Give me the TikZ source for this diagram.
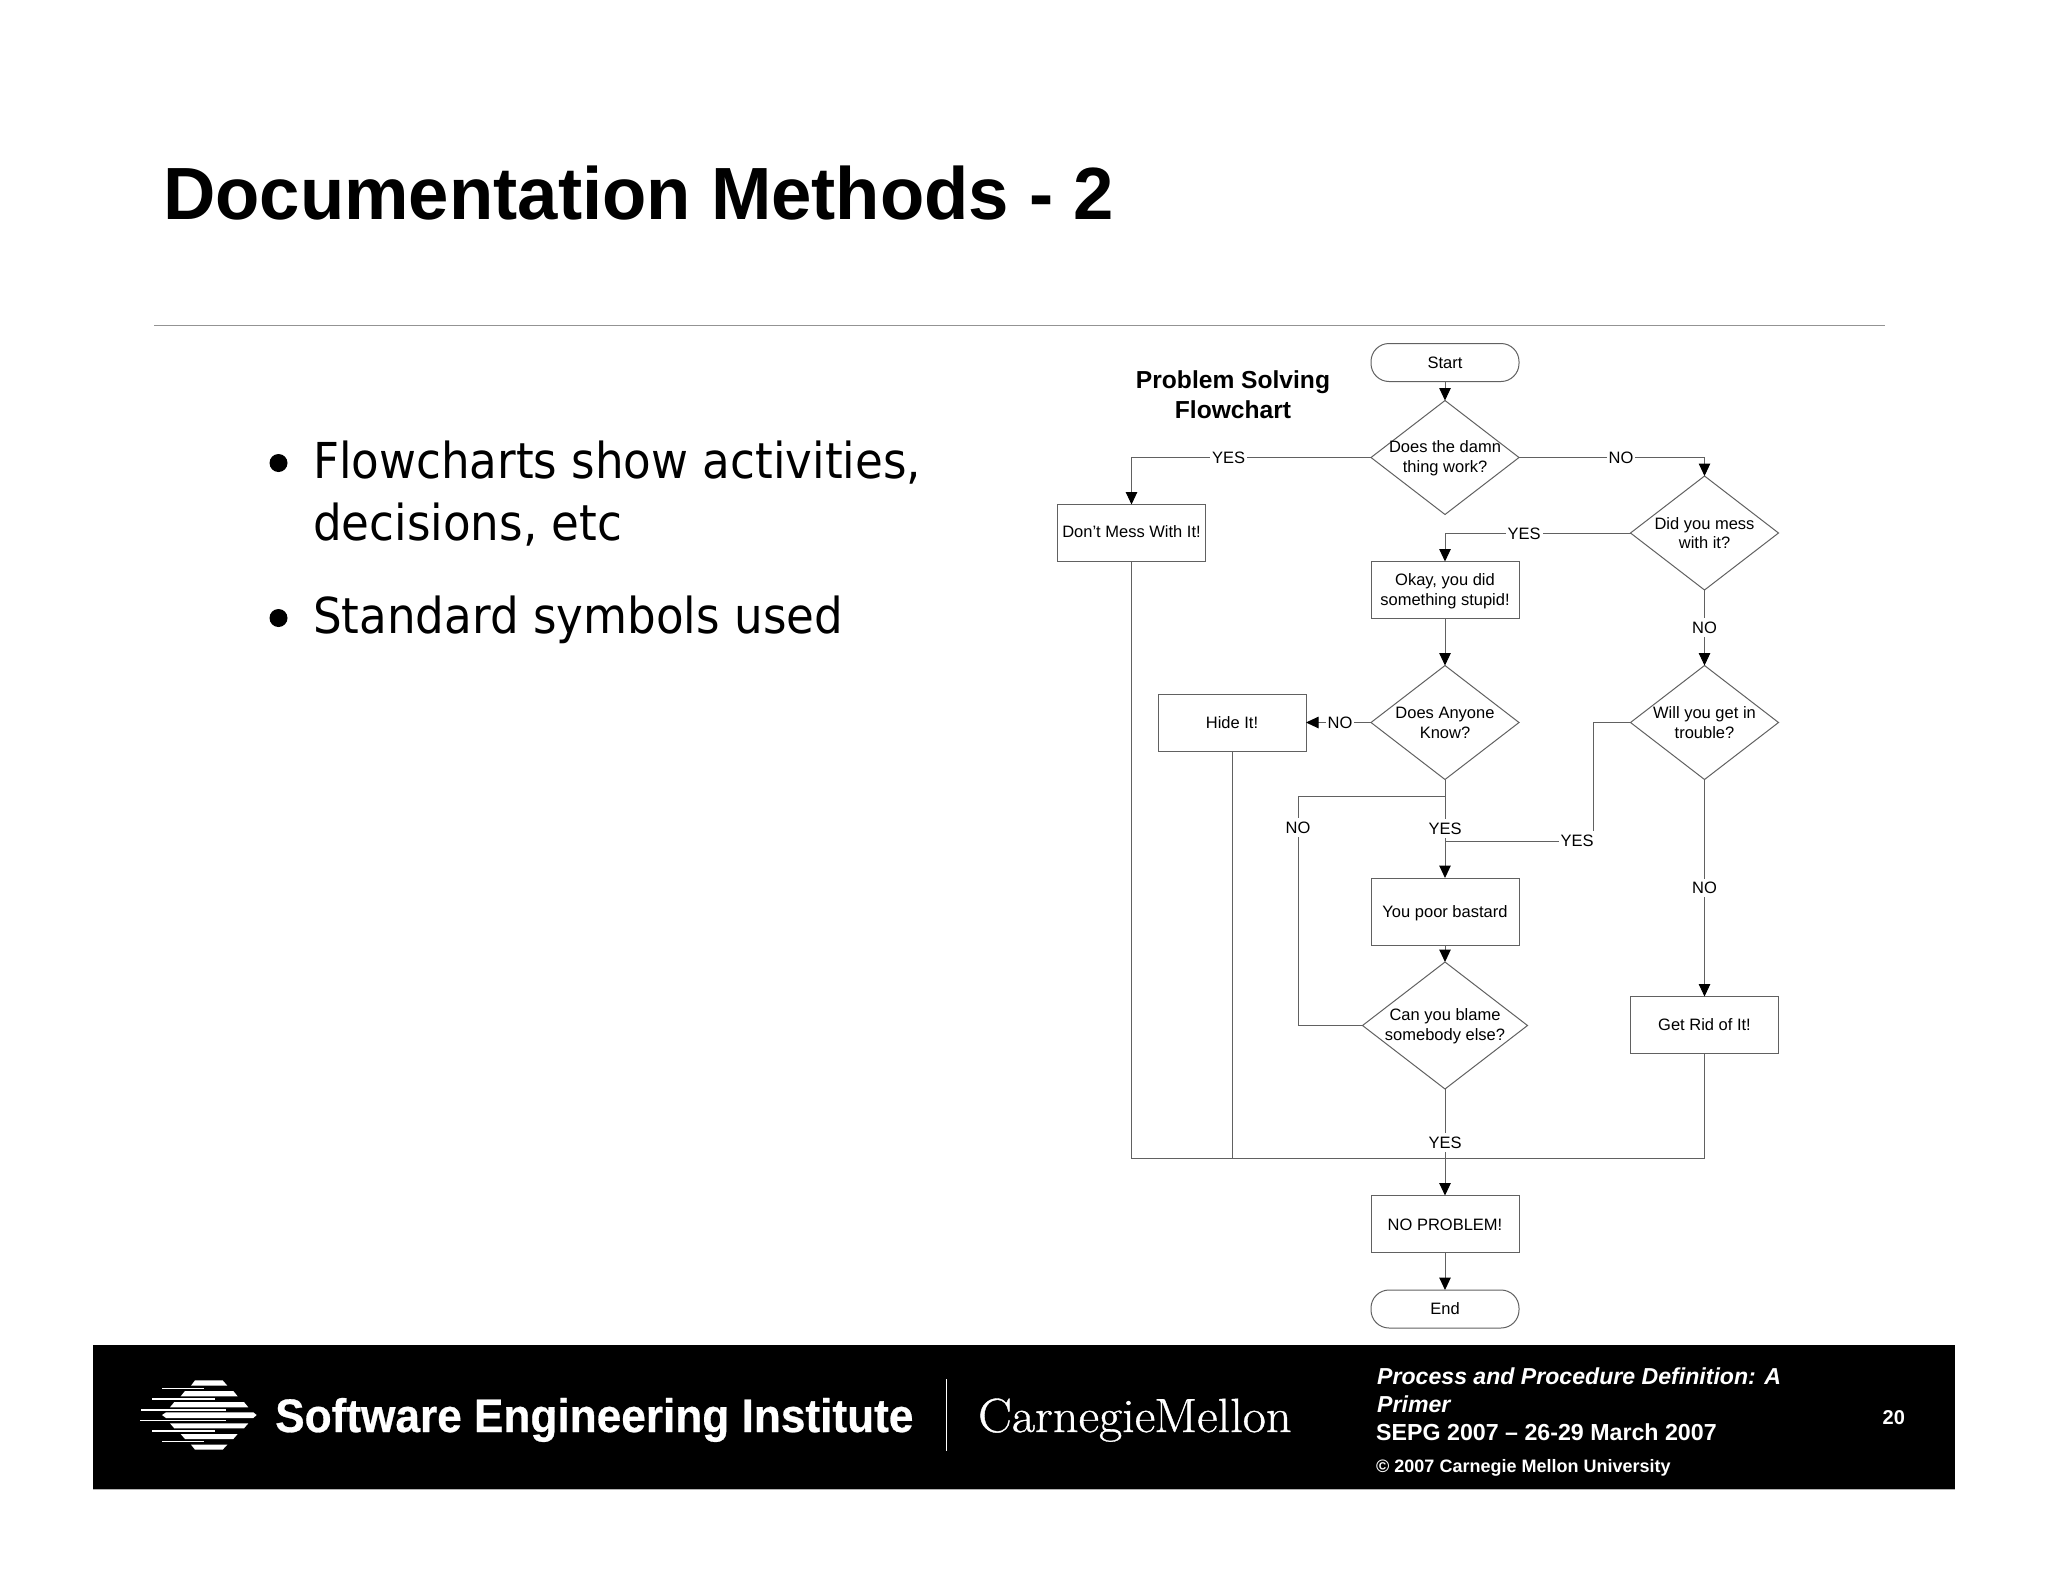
\documentclass[tikz,border=0pt]{standalone}
\usepackage{fontspec}
\setmainfont{Liberation Sans}
\newfontfamily\bulletfont[FakeStretch=0.913]{DejaVu Sans}
\newfontfamily\cmfont[FakeBold=0.8]{Latin Modern Roman}
\newfontfamily\seifont[FakeBold=0.6]{Liberation Sans}
\usetikzlibrary{shapes.geometric,arrows.meta}
\definecolor{linegray}{gray}{0.38}
\newcommand{\fs}[1]{\fontsize{#1}{#1}\selectfont}
\tikzset{
  base/.style={draw=linegray,line width=1pt,fill=white,inner sep=0pt,outer sep=0pt},
  boxnode/.style={base,rectangle,minimum width=148pt,minimum height=57pt},
  pill/.style={base,rectangle,rounded corners=18pt,minimum width=148pt,minimum height=38pt},
  dia/.style={base,diamond,minimum width=148pt,minimum height=114pt},
  txt/.style={inner sep=0pt,align=center,font=\fs{16.5},text=black,yshift=-1.3pt},
  lab/.style={fill=white,inner xsep=2pt,inner ysep=3.5pt,font=\fs{16.5},text=black,yshift=-0.5pt},
  flow/.style={draw=linegray,line width=1pt},
  arr/.style={flow,-{Triangle[length=12.5pt,width=11.5pt,fill=black,color=black]}},
  left text/.style={anchor=base west,inner sep=0pt,text=black},
  foot/.style={anchor=base west,inner sep=0pt,text=white,font=\bfseries\fs{22}},
  bar/.style={fill=white,draw=none}
}
\begin{document}
\begin{tikzpicture}[x=1pt,y=-1pt]
\useasboundingbox (0,0) rectangle (2048,1582);
\fill[white] (0,0) rectangle (2048,1582);
% title
\node[left text,font=\bfseries\fs{74},xscale=0.98] (title) at (163,219) {Documentation Methods - 2};
\draw[draw=gray!85,line width=1.5pt] (154,325.5) -- (1885,325.5);
% bullets
\fill[black] (278.5,463) circle (9);
\fill[black] (278.5,618) circle (9);
\node[left text,font=\bulletfont\fs{49.5}] (b1) at (313,478.5) {Flowcharts show activities,};
\node[left text,font=\bulletfont\fs{49.5}] (b2) at (313,540) {decisions, etc};
\node[left text,font=\bulletfont\fs{49.5}] (b3) at (313,633.5) {Standard symbols used};
% heading
\node[inner sep=0pt,align=center,font=\bfseries\fs{24.6},text=black] (fct) at (1233,395) {Problem Solving\\[5pt]Flowchart};
% shapes
\node[pill] (start) at (1445,362.5) {};
\node[txt,yshift=1.3pt] (startT) at (start) {Start};
\node[dia] (work) at (1445,457.5) {};
\node[txt] (workT) at (1445,457) {Does the damn\\[3pt]thing work?};
\node[boxnode] (dont) at (1131.5,533) {};
\node[txt,yshift=2.6pt] (dontT) at (dont) {Don’t Mess With It!};
\node[dia] (mess) at (1704.5,533) {};
\node[txt] (messT) at (1704.5,532) {Did you mess\\[3pt]with it?};
\node[boxnode] (okay) at (1445,590) {};
\node[txt] (okayT) at (okay) {Okay, you did\\[4pt]something stupid!};
\node[dia] (know) at (1445,722.5) {};
\node[txt] (knowT) at (1445,721.5) {Does Anyone\\[3pt]Know?};
\node[boxnode] (hide) at (1232,722.5) {};
\node[txt,yshift=1.3pt] (hideT) at (hide) {Hide It!};
\node[dia] (trouble) at (1704.5,722.5) {};
\node[txt] (troubleT) at (1704.5,721.5) {Will you get in\\[3pt]trouble?};
\node[base,rectangle,minimum width=148pt,minimum height=67pt] (poor) at (1445,911.5) {};
\node[txt] (poorT) at (poor) {You poor bastard};
\node[base,diamond,minimum width=165pt,minimum height=127pt] (blame) at (1445,1025.5) {};
\node[txt] (blameT) at (1445,1025) {Can you blame\\[3pt]somebody else?};
\node[base,rectangle,minimum width=148pt,minimum height=57pt] (getrid) at (1704.5,1025) {};
\node[txt,yshift=1.3pt] (getridT) at (getrid) {Get Rid of It!};
\node[boxnode] (nop) at (1445,1224) {};
\node[txt] (nopT) at (nop) {NO PROBLEM!};
\node[pill] (stopn) at (1445,1309) {};
\node[txt,yshift=1.3pt] (stopT) at (stopn) {End};
% junctions
\coordinate (merge) at (1445,1158);
\coordinate (nojoin) at (1445,796);
\coordinate (noleft) at (1298,796);
\coordinate (yesjoin) at (1445,841);
\coordinate (yesbar) at (1593,841);
% connectors
\draw[arr] (start.south) -- (work.north);
\draw[arr] (work.west) -| (dont.north);
\draw[arr] (work.east) -| (mess.north);
\draw[arr] (mess.west) -| (okay.north);
\draw[arr] (mess.south) -- (trouble.north);
\draw[arr] (okay.south) -- (know.north);
\draw[arr] (know.west) -- (hide.east);
\draw[arr] (know.south) -- (poor.north);
\draw[flow] (nojoin) -- (noleft) |- (blame.west);
\draw[flow] (trouble.west) -| (yesbar) -- (yesjoin);
\draw[arr] (poor.south) -- (blame.north);
\draw[arr] (trouble.south) -- (getrid.north);
\draw[flow] (dont.south) |- (merge);
\draw[flow] (hide.south) |- (merge);
\draw[flow] (getrid.south) |- (merge);
\draw[arr] (blame.south) -- (nop.north);
\draw[arr] (nop.south) -- (stopn.north);
% labels
\node[lab] (l1) at (1228.5,457) {YES};
\node[lab] (l2) at (1621,457) {NO};
\node[lab] (l3) at (1524,533) {YES};
\node[lab] (l4) at (1704.5,627) {NO};
\node[lab] (l5) at (1340,722.5) {NO};
\node[lab] (l6) at (1298,827) {NO};
\node[lab] (l7) at (1445,828) {YES};
\node[lab] (l8) at (1577,840) {YES};
\node[lab] (l9) at (1704.5,887.5) {NO};
\node[lab] (l10) at (1445,1142) {YES};
% footer
\fill[black] (93,1345) rectangle (1955,1489);
\draw[gray!60,line width=1pt] (93,1489.5) -- (1955,1489.5);
\begin{scope}[shift={(130,1370)},x=0.3333pt,y=-0.3333pt]
\fill[bar] (195,31)--(278,31)--(292,47)--(183,47)--cycle;
\fill[bar] (97,53) rectangle (222,58);
\fill[bar] (165,63)--(310,63)--(323,79)--(152,79)--cycle;
\fill[bar] (65,85) rectangle (254,90);
\fill[bar] (133,96)--(342,96)--(355,112)--(120,112)--cycle;
\fill[bar] (32,118) rectangle (287,122);
\fill[bar] (108,127)--(370,127)--(380,135)--(370,144)--(108,144)--(96,135)--cycle;
\fill[bar] (31,149) rectangle (287,153);
\fill[bar] (120,160)--(355,160)--(342,175)--(133,175)--cycle;
\fill[bar] (65,181) rectangle (254,185);
\fill[bar] (152,192)--(323,192)--(310,207)--(165,207)--cycle;
\fill[bar] (97,213) rectangle (222,217);
\fill[bar] (183,224)--(292,224)--(278,239)--(195,239)--cycle;
\end{scope}
\node[foot,font=\seifont\bfseries\fs{47},xscale=0.94] (sei) at (275,1432) {Software Engineering Institute};
\draw[white,line width=1pt] (946,1379) -- (946,1451);
\node[foot,font=\cmfont\fs{48},xscale=1.05] (cmu) at (978,1432) {Carnegie\kern-1pt Mellon};
\node[foot,font=\bfseries\itshape\fs{23.1}] (f1) at (1377,1384) {Process and Procedure Definition: A};
\node[foot,font=\bfseries\itshape\fs{23.1}] (f2) at (1377,1412) {Primer};
\node[foot,font=\bfseries\fs{23.2}] (f3) at (1376,1440) {SEPG 2007 – 26-29 March 2007};
\node[foot,font=\bfseries\fs{18}] (f4) at (1376,1472) {© 2007 Carnegie Mellon University};
\node[foot,font=\bfseries\fs{20}] (f5) at (1882.5,1424) {20};
\end{tikzpicture}
\end{document}
